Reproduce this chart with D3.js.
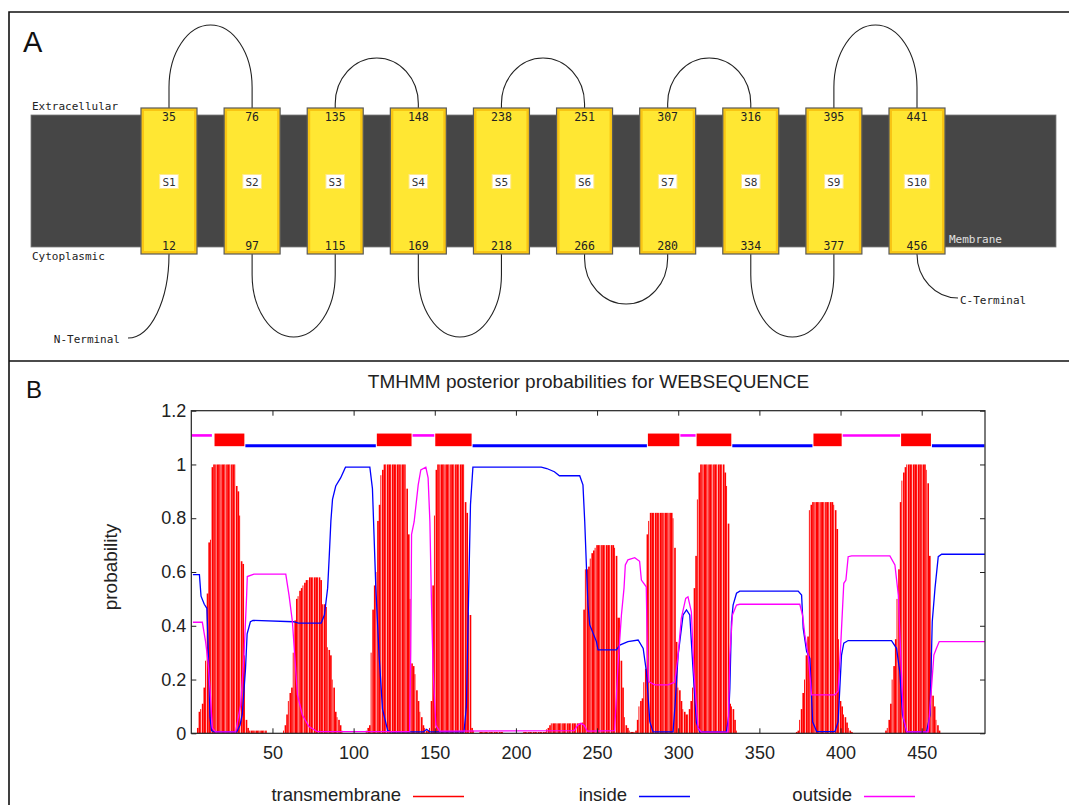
<!DOCTYPE html>
<html>
<head>
<meta charset="utf-8">
<script src="https://cdn.jsdelivr.net/npm/d3@7"></script>
<style>
  body { margin: 0; background: #fff; }
  svg { display: block; }
</style>
</head>
<body>
<svg id="chart" width="1069" height="805"></svg>
<script>
// Panel A: topology
var helixNames = ["S1", "S2", "S3", "S4", "S5", "S6", "S7", "S8", "S9", "S10"];
var helixOut = [35, 76, 135, 148, 238, 251, 307, 316, 395, 441];   // extracellular end
var helixIn = [12, 97, 115, 169, 218, 266, 280, 334, 377, 456];    // cytoplasmic end

// Panel B: TMHMM posterior probabilities
var seqLength = 489;
var xTicks = [50, 100, 150, 200, 250, 300, 350, 400, 450];
var yTicks = [0, 0.2, 0.4, 0.6, 0.8, 1, 1.2];
var yTickLabels = ["0", "0.2", "0.4", "0.6", "0.8", "1", "1.2"];

// predicted regions (top bar)
var tmRegions = [[14, 33], [114, 136], [150, 173], [281, 301], [311, 333], [383, 401], [437, 456]];
var insideRegions = [[33, 114], [173, 281], [333, 383], [456, 489]];
var outsideRegions = [[0, 13], [136, 150], [301, 311], [401, 437]];

// transmembrane probability, residue 1..489
var transmembrane = [
  0,0,0,0.02,0.08,0.09,0.11,0.17,0.27,0.52,0.71,0.72,0.99,1,1,1,1,1,1,1,
  1,1,1,1,1,1,1,0.92,0.9,0.81,0.64,0.63,0.29,0.05,0.02,0.01,0.01,0.01,0.01,0.01,
  0.01,0.01,0.01,0.01,0.01,0.01,0,0,0,0,0,0,0,0,0,0,0.01,0.03,0.07,0.12,
  0.15,0.17,0.3,0.42,0.5,0.51,0.53,0.54,0.55,0.56,0.57,0.57,0.58,0.58,0.58,0.58,0.58,0.58,0.58,0.57,
  0.48,0.48,0.47,0.32,0.31,0.29,0.2,0.17,0.08,0.06,0.05,0.03,0.01,0,0,0,0,0,0,0,
  0,0,0,0,0,0,0,0.01,0.02,0.03,0.3,0.46,0.55,0.6,0.79,0.85,0.96,0.98,1,1,
  1,1,1,1,1,1,1,1,1,1,1,1,0.91,0.74,0.5,0.26,0.25,0.22,0.16,0.12,
  0.08,0.06,0.03,0.02,0.01,0.01,0.02,0.12,0.55,0.81,0.98,1,1,1,1,1,1,1,1,1,
  1,1,1,1,1,1,1,1,0.86,0.82,0.45,0.44,0.02,0.01,0,0,0,0.005,0.005,0.005,
  0.005,0.005,0.005,0.005,0.005,0.005,0.005,0.005,0.005,0.005,0.005,0.005,0,0,0,0,0,0,0,0,
  0,0,0,0,0.005,0.005,0.005,0.005,0.005,0.005,0.005,0.005,0.005,0.005,0.005,0.005,0.005,0.005,0.015,0.02,
  0.03,0.037,0.037,0.037,0.037,0.037,0.037,0.037,0.037,0.037,0.037,0.037,0.037,0.037,0.037,0.037,0.037,0.037,0.037,0.037,
  0.04,0.46,0.61,0.61,0.62,0.65,0.67,0.68,0.69,0.7,0.7,0.7,0.7,0.7,0.7,0.7,0.7,0.7,0.7,0.7,
  0.69,0.66,0.43,0.43,0.27,0.17,0.06,0.03,0.02,0.01,0.005,0.005,0.005,0.01,0.05,0.1,0.12,0.13,0.19,0.24,
  0.74,0.79,0.82,0.82,0.82,0.82,0.82,0.82,0.82,0.82,0.82,0.82,0.82,0.82,0.82,0.82,0.8,0.69,0.34,0.17,
  0.16,0.12,0.09,0.08,0.07,0.07,0.09,0.12,0.17,0.54,0.66,0.87,0.97,1,1,1,1,1,1,1,
  1,1,1,1,1,1,1,1,0.97,0.92,0.78,0.11,0.1,0.09,0.05,0.01,0,0,0,0,
  0,0,0,0,0,0,0,0,0,0,0,0,0,0,0,0,0,0,0,0,
  0,0,0,0,0,0,0,0,0,0,0,0,0.005,0.01,0.05,0.09,0.15,0.2,0.29,0.36,
  0.83,0.85,0.86,0.86,0.86,0.86,0.86,0.86,0.86,0.86,0.86,0.86,0.86,0.86,0.86,0.85,0.83,0.76,0.35,0.12,
  0.1,0.07,0.06,0.04,0.02,0.01,0.005,0,0,0,0,0,0,0,0,0,0,0,0,0,
  0,0,0,0,0,0,0,0.01,0.02,0.05,0.11,0.2,0.25,0.35,0.5,0.61,0.86,0.94,0.97,0.99,
  1,1,1,1,1,1,1,1,1,1,1,1,0.98,0.93,0.66,0.3,0.14,0.1,0.05,0.03,
  0.01,0,0,0,0,0,0,0,0,0,0,0,0,0,0,0,0,0,0,0,
  0,0,0,0,0,0,0,0,0
];

// inside / outside probability, [residue, value]
var insideCurve = [
  [1,0.59],[5,0.59],[6,0.51],[8,0.48],[9.6,0.465],[10.5,0.3],[11.5,0.06],[12.5,0.01],[14,0.005],[28,0.005],
  [30,0.03],[31.4,0.07],[33.4,0.24],[34.4,0.37],[36.4,0.415],[38,0.42],[63,0.415],[66,0.41],[80,0.41],[82,0.44],
  [84,0.54],[85,0.66],[86,0.79],[87,0.87],[89,0.92],[92,0.95],[95,0.99],[110,0.99],[111.6,0.91],[113.7,0.54],
  [115.7,0.29],[117.8,0.09],[121,0.01],[123,0.005],[143,0.005],[145,0.015],[147,0.005],[168,0.005],[169.5,0.1],[170.8,0.5],
  [172,0.85],[173.5,0.99],[215.6,0.99],[219,0.985],[223.7,0.973],[226.8,0.958],[239.3,0.958],[241.3,0.924],[242.4,0.787],[243.4,0.626],
  [244.4,0.477],[245.5,0.403],[249.6,0.341],[250.6,0.31],[261.9,0.31],[264,0.328],[269,0.341],[275.3,0.347],[278.4,0.316],[280.4,0.229],
  [282.5,0.043],[284.5,0.005],[296.8,0.005],[298,0.1],[299.9,0.29],[303,0.44],[305.1,0.459],[307.1,0.44],[309.2,0.23],[311.2,0.04],
  [313.3,0.005],[329.7,0.005],[331,0.06],[331.8,0.167],[332.8,0.415],[333.8,0.477],[335.9,0.521],[337.9,0.529],[373.9,0.529],[376,0.514],
  [377,0.39],[379.1,0.304],[381.1,0.279],[382.8,0.043],[385.3,0.006],[396.5,0.006],[398.5,0.043],[400.6,0.291],[402,0.335],[404.7,0.345],
  [431.4,0.345],[434.5,0.316],[436.5,0.229],[438.2,0.068],[440.6,0.005],[453,0.005],[455.1,0.068],[456.5,0.415],[458.2,0.54],[460.2,0.657],
  [462.3,0.666],[489,0.666]
];
var outsideCurve = [
  [1,0.413],[6.8,0.413],[8.8,0.341],[10.3,0.266],[11.5,0.167],[13,0.019],[15,0.005],[27.3,0.005],[30.4,0.105],[32.5,0.291],
  [34.1,0.514],[34.5,0.583],[38.6,0.592],[58.2,0.592],[60.2,0.514],[62.3,0.415],[63.7,0.291],[65.4,0.143],[68.4,0.068],[72.5,0.025],
  [77.7,0.006],[134.5,0.006],[135.2,0.3],[135.7,0.74],[137.3,0.787],[139.8,0.924],[141.4,0.98],[144.5,0.99],[145.9,0.95],[147,0.787],
  [148,0.477],[149,0.229],[150.7,0.03],[153,0.008],[236,0.01],[238,0.03],[240,0.037],[242,0.03],[244,0.008],[260.8,0.01],
  [262.9,0.254],[265,0.44],[266.6,0.54],[267.4,0.626],[269,0.645],[273.2,0.653],[276.2,0.64],[277.3,0.57],[280.3,0.545],[281,0.3],
  [281.8,0.192],[285.5,0.18],[293.7,0.18],[297.8,0.19],[299.9,0.29],[301.9,0.428],[304.6,0.502],[306,0.508],[308.1,0.452],[309.7,0.229],
  [312.2,0.02],[314.3,0.004],[330.7,0.004],[331.8,0.291],[333.4,0.44],[335.9,0.477],[337.9,0.48],[374.9,0.48],[376.6,0.44],[378,0.366],
  [380.1,0.291],[382.1,0.143],[396.5,0.143],[398.5,0.157],[400,0.316],[402,0.558],[403.3,0.57],[404.7,0.657],[406.8,0.66],[430.4,0.66],
  [433.5,0.626],[435.6,0.514],[437.1,0.29],[438.7,0.06],[440.8,0.005],[454,0.005],[456,0.167],[457.5,0.291],[459.1,0.316],[460.8,0.341],
  [489,0.341]
];

var legendNames = ["transmembrane", "inside", "outside"];
var colors = { transmembrane: "#ff0000", inside: "#0000ff", outside: "#ff00ff" };

var svg = d3.select("#chart");
var mono = "'DejaVu Sans Mono', monospace";
var sans = "'Liberation Sans', Arial, sans-serif";

// figure frame
svg.append("path")
  .attr("d", "M9,805 V12 H1069 M9,361 H1069")
  .attr("fill", "none")
  .attr("stroke", "#111")
  .attr("stroke-width", 1.6);

// ---------------- Panel A ----------------
var drawTopology = function () {
  var g = svg.append("g");
  var boxTop = 108, boxBot = 254, boxW = 56;
  var memTop = 115, memBot = 247;

  var xh = d3.scalePoint().domain(helixNames).range([169, 917]);

  g.append("text").attr("x", 23).attr("y", 52)
    .attr("font-family", sans).attr("font-size", 29).attr("fill", "#111").text("A");

  g.append("rect")
    .attr("x", 31).attr("y", memTop).attr("width", 1025).attr("height", memBot - memTop)
    .attr("fill", "#464646").attr("stroke", "#7a7a7a").attr("stroke-width", 0.8);

  g.append("text").attr("x", 32).attr("y", 110)
    .attr("font-family", mono).attr("font-size", 11).attr("fill", "#222").text("Extracellular");
  g.append("text").attr("x", 32).attr("y", 259.5)
    .attr("font-family", mono).attr("font-size", 11).attr("fill", "#222").text("Cytoplasmic");
  g.append("text").attr("x", 949).attr("y", 243)
    .attr("font-family", mono).attr("font-size", 11).attr("fill", "#e0e0e0").text("Membrane");

  // loops between helices, alternating outside / inside
  var loops = g.append("g").attr("fill", "none").attr("stroke", "#222").attr("stroke-width", 1.1);
  for (var i = 0; i < helixNames.length - 1; i++) {
    var x1 = xh(helixNames[i]), x2 = xh(helixNames[i + 1]);
    var top = (i % 2 === 0);
    var len = top ? helixOut[i + 1] - helixOut[i] : helixIn[i + 1] - helixIn[i];
    var h = len > 15 ? 83 : 50;
    var rx = (x2 - x1) / 2;
    var s = (h - rx) / 2;      // short straight part, then a half ellipse
    var ry = h - s;
    var d = top
      ? "M" + x1 + "," + boxTop + " V" + (boxTop - s) + " A" + rx + "," + ry + " 0 0 1 " + x2 + "," + (boxTop - s) + " V" + boxTop
      : "M" + x1 + "," + boxBot + " V" + (boxBot + s) + " A" + rx + "," + ry + " 0 0 0 " + x2 + "," + (boxBot + s) + " V" + boxBot;
    loops.append("path").attr("d", d);
  }

  // termini
  var xN = xh(helixNames[0]), xC = xh(helixNames[helixNames.length - 1]);
  loops.append("path").attr("d", "M" + xN + "," + boxBot + " A41,84 0 0 1 " + (xN - 41) + "," + (boxBot + 84));
  loops.append("path").attr("d", "M" + xC + "," + boxBot + " A41,44 0 0 0 " + (xC + 41) + "," + (boxBot + 44));
  g.append("text").attr("x", xN - 49).attr("y", 343).attr("text-anchor", "end")
    .attr("font-family", mono).attr("font-size", 11).attr("fill", "#222").text("N-Terminal");
  g.append("text").attr("x", xC + 43).attr("y", 304)
    .attr("font-family", mono).attr("font-size", 11).attr("fill", "#222").text("C-Terminal");

  // helix boxes
  var hx = g.selectAll(".helix").data(helixNames).enter().append("g").attr("class", "helix");
  hx.append("rect")
    .attr("x", function (d) { return xh(d) - boxW / 2; }).attr("y", boxTop)
    .attr("width", boxW).attr("height", boxBot - boxTop)
    .attr("fill", "#f8c514").attr("stroke", "#5a5a5a").attr("stroke-width", 1.2);
  hx.append("rect")
    .attr("x", function (d) { return xh(d) - boxW / 2 + 3; }).attr("y", boxTop + 3)
    .attr("width", boxW - 6).attr("height", boxBot - boxTop - 6)
    .attr("fill", "#ffe733");
  hx.append("text")
    .attr("x", function (d) { return xh(d); }).attr("y", 121)
    .attr("text-anchor", "middle").attr("font-family", mono).attr("font-size", 11.5).attr("fill", "#222")
    .text(function (d, i) { return helixOut[i]; });
  hx.append("text")
    .attr("x", function (d) { return xh(d); }).attr("y", 250)
    .attr("text-anchor", "middle").attr("font-family", mono).attr("font-size", 11.5).attr("fill", "#222")
    .text(function (d, i) { return helixIn[i]; });
  hx.append("rect")
    .attr("x", function (d) { return xh(d) - (d.length * 6.8 + 5) / 2; }).attr("y", 174.5)
    .attr("width", function (d) { return d.length * 6.8 + 5; }).attr("height", 14)
    .attr("fill", "#fff").attr("stroke", "#ffe98a").attr("stroke-width", 1);
  hx.append("text")
    .attr("x", function (d) { return xh(d); }).attr("y", 186)
    .attr("text-anchor", "middle").attr("font-family", mono).attr("font-size", 11).attr("fill", "#333")
    .text(function (d) { return d; });
};

// ---------------- Panel B ----------------
var drawProbabilities = function () {
  var g = svg.append("g");
  var x = d3.scaleLinear().domain([0, seqLength]).range([191.3, 985]);
  var y = d3.scaleLinear().domain([0, 1.2]).range([733.3, 410.7]);

  g.append("text").attr("x", 26).attr("y", 398)
    .attr("font-family", sans).attr("font-size", 24).attr("fill", "#111").text("B");

  g.append("text").attr("x", 588.5).attr("y", 388).attr("text-anchor", "middle")
    .attr("font-family", sans).attr("font-size", 19).attr("fill", "#222")
    .text("TMHMM posterior probabilities for WEBSEQUENCE");

  g.append("text")
    .attr("transform", "translate(117,567) rotate(-90)")
    .attr("text-anchor", "middle")
    .attr("font-family", sans).attr("font-size", 19).attr("fill", "#222")
    .text("probability");

  // transmembrane impulses
  var tm = transmembrane.map(function (v, i) { return { pos: i + 1, v: v }; })
    .filter(function (d) { return d.v > 0; });
  g.append("g").selectAll("rect").data(tm).enter().append("rect")
    .attr("x", function (d) { return x(d.pos - 0.5); })
    .attr("y", function (d) { return y(d.v); })
    .attr("width", function (d) { return x(d.pos + 0.5) - x(d.pos - 0.5) - (d.pos % 3 === 0 ? 0.7 : 0); })
    .attr("height", function (d) { return y(0) - y(d.v); })
    .attr("fill", colors.transmembrane);

  var line = d3.line()
    .x(function (d) { return x(d[0]); })
    .y(function (d) { return y(d[1]); });

  g.append("path").datum(insideCurve).attr("d", line)
    .attr("fill", "none").attr("stroke", colors.inside).attr("stroke-width", 1.3);
  g.append("path").datum(outsideCurve).attr("d", line)
    .attr("fill", "none").attr("stroke", colors.outside).attr("stroke-width", 1.3);

  // prediction bar on top
  g.append("g").selectAll("line").data(outsideRegions).enter().append("line")
    .attr("x1", function (d) { return x(d[0]) + 0.5; }).attr("x2", function (d) { return x(d[1]) - 0.5; })
    .attr("y1", y(1.108)).attr("y2", y(1.108))
    .attr("stroke", colors.outside).attr("stroke-width", 2.6);
  g.append("g").selectAll("line").data(insideRegions).enter().append("line")
    .attr("x1", function (d) { return x(d[0]) + 0.5; }).attr("x2", function (d) { return x(d[1]) - 0.5; })
    .attr("y1", y(1.07)).attr("y2", y(1.07))
    .attr("stroke", colors.inside).attr("stroke-width", 3);
  g.append("g").selectAll("rect").data(tmRegions).enter().append("rect")
    .attr("x", function (d) { return x(d[0]) + 0.5; })
    .attr("width", function (d) { return x(d[1]) - x(d[0]) - 1; })
    .attr("y", y(1.115)).attr("height", y(1.068) - y(1.115))
    .attr("fill", colors.transmembrane);

  // axes, ticks pointing inward
  var fmt = function (d) { return yTickLabels[yTicks.indexOf(d)]; };
  var axes = [
    g.append("g").attr("transform", "translate(0," + y(0) + ")")
      .call(d3.axisBottom(x).tickValues(xTicks).tickSize(-5).tickPadding(13)),
    g.append("g").attr("transform", "translate(" + x(0) + ",0)")
      .call(d3.axisLeft(y).tickValues(yTicks).tickFormat(fmt).tickSize(-5).tickPadding(5)),
    g.append("g").attr("transform", "translate(0," + y(1.2) + ")")
      .call(d3.axisTop(x).tickValues(xTicks).tickSize(-5).tickFormat("")),
    g.append("g").attr("transform", "translate(" + x(seqLength) + ",0)")
      .call(d3.axisRight(y).tickValues(yTicks).tickSize(-5).tickFormat(""))
  ];
  axes.forEach(function (a) {
    a.select(".domain").remove();
    a.selectAll(".tick line").attr("stroke", "#222");
    a.selectAll(".tick text").attr("font-family", sans).attr("font-size", 18).attr("fill", "#222");
  });

  g.append("rect")
    .attr("x", x(0)).attr("y", y(1.2))
    .attr("width", x(seqLength) - x(0)).attr("height", y(0) - y(1.2))
    .attr("fill", "none").attr("stroke", "#222").attr("stroke-width", 1.2);

  // legend
  var legendEnd = [401, 627, 852];
  var lg = g.selectAll(".legend").data(legendNames).enter().append("g").attr("class", "legend");
  lg.append("text")
    .attr("x", function (d, i) { return legendEnd[i]; }).attr("y", 800.5)
    .attr("text-anchor", "end").attr("font-family", sans).attr("font-size", 18.5).attr("fill", "#222")
    .text(function (d) { return d; });
  lg.append("line")
    .attr("x1", function (d, i) { return legendEnd[i] + 12; })
    .attr("x2", function (d, i) { return legendEnd[i] + 63; })
    .attr("y1", 796.5).attr("y2", 796.5)
    .attr("stroke", function (d) { return colors[d]; }).attr("stroke-width", 1.3);
};

drawTopology();
drawProbabilities();
</script>
</body>
</html>
